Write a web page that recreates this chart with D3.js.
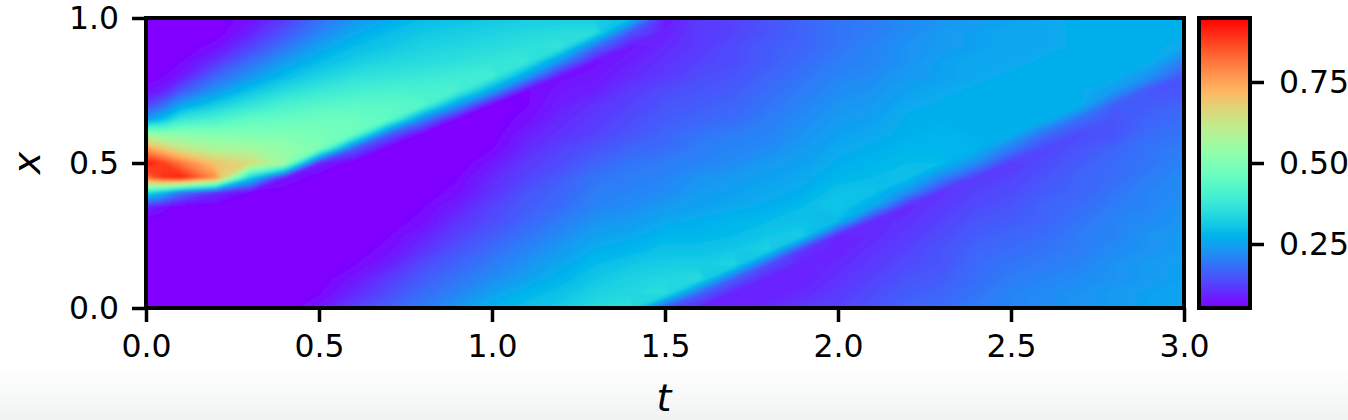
<!DOCTYPE html>
<html>
<head>
<meta charset="utf-8">
<script src="https://cdn.jsdelivr.net/npm/d3@7"></script>
<style>
  html, body { margin: 0; padding: 0; background: #fff; }
  svg { display: block; }
  text { font-family: "DejaVu Sans", sans-serif; fill: #000; }
</style>
</head>
<body>
<svg id="chart"></svg>
<script>
const width = 1348, height = 420;

// sample positions of the field
const tGrid = [0, 0.05, 0.1, 0.2, 0.3, 0.4, 0.5, 0.6, 0.7, 0.8, 0.9, 1.0, 1.1, 1.2, 1.3, 1.4, 1.5,
  1.6, 1.7, 1.8, 1.9, 2.0, 2.1, 2.2, 2.3, 2.4, 2.5, 2.6, 2.7, 2.8, 2.9, 3.0];
const xGrid = [0, 0.05, 0.1, 0.15, 0.2, 0.25, 0.3, 0.35, 0.4, 0.45, 0.5, 0.55, 0.6, 0.65, 0.7, 0.75, 0.8, 0.85, 0.9, 0.95, 1];

// one line per t, values from x = 0 up to x = 1
const uByT = [
  [.05,.05,.05,.05,.05,.05,.05,.10,.36,.82,.93,.76,.55,.24,.13,.07,.05,.05,.05,.05,.05],
  [.05,.05,.05,.05,.05,.05,.05,.07,.30,.90,.88,.69,.52,.30,.18,.09,.06,.05,.05,.05,.05],
  [.05,.05,.05,.05,.05,.05,.05,.05,.20,.92,.81,.63,.52,.38,.25,.15,.08,.06,.05,.05,.05],
  [.05,.05,.05,.05,.05,.05,.05,.05,.11,.78,.70,.58,.51,.41,.32,.23,.17,.11,.07,.05,.05],
  [.05,.05,.05,.05,.05,.05,.05,.05,.06,.33,.66,.57,.50,.45,.37,.30,.23,.18,.13,.09,.07],
  [.05,.05,.05,.05,.05,.05,.05,.05,.05,.08,.56,.54,.50,.46,.41,.35,.29,.24,.19,.15,.12],
  [.08,.06,.05,.05,.05,.05,.05,.05,.05,.05,.09,.50,.49,.47,.43,.38,.33,.29,.25,.21,.18],
  [.13,.10,.08,.06,.05,.05,.05,.05,.05,.05,.05,.16,.47,.47,.44,.40,.36,.32,.29,.26,.23],
  [.17,.14,.12,.09,.07,.06,.05,.05,.05,.05,.05,.05,.17,.45,.44,.41,.37,.34,.31,.29,.26],
  [.20,.18,.16,.14,.11,.09,.07,.06,.05,.05,.05,.05,.05,.21,.43,.41,.38,.35,.33,.31,.29],
  [.24,.21,.19,.17,.15,.13,.11,.09,.07,.06,.05,.05,.05,.05,.24,.41,.39,.36,.34,.32,.30],
  [.28,.25,.22,.20,.18,.16,.14,.13,.11,.10,.08,.06,.05,.05,.05,.26,.40,.37,.35,.33,.31],
  [.30,.28,.25,.23,.21,.19,.17,.16,.15,.13,.12,.10,.09,.07,.06,.06,.25,.38,.36,.34,.32],
  [.32,.30,.28,.26,.24,.22,.20,.18,.17,.16,.14,.13,.11,.10,.09,.08,.07,.22,.37,.35,.32],
  [.35,.33,.31,.29,.27,.25,.23,.21,.20,.19,.17,.15,.13,.12,.11,.09,.08,.07,.18,.35,.32],
  [.36,.34,.33,.31,.28,.26,.24,.22,.21,.20,.19,.17,.15,.14,.13,.12,.10,.09,.08,.15,.30],
  [.15,.36,.34,.32,.30,.28,.26,.24,.22,.21,.20,.18,.17,.16,.15,.14,.12,.11,.10,.09,.08],
  [.09,.17,.35,.32,.30,.28,.27,.25,.24,.23,.21,.20,.19,.17,.16,.15,.14,.13,.12,.12,.12],
  [.09,.09,.16,.34,.31,.29,.28,.26,.25,.24,.22,.21,.20,.18,.17,.16,.15,.14,.14,.13,.13],
  [.10,.09,.09,.14,.33,.31,.29,.27,.26,.25,.24,.22,.21,.20,.19,.18,.17,.16,.16,.15,.15],
  [.12,.10,.09,.09,.11,.32,.30,.29,.27,.26,.25,.24,.23,.22,.21,.20,.19,.18,.17,.17,.17],
  [.13,.12,.11,.10,.09,.09,.29,.31,.30,.28,.27,.26,.25,.24,.23,.22,.21,.20,.19,.19,.19],
  [.15,.14,.13,.12,.11,.10,.10,.26,.30,.29,.28,.27,.26,.25,.24,.23,.22,.21,.21,.20,.20],
  [.17,.16,.15,.14,.13,.12,.11,.10,.23,.30,.29,.28,.27,.27,.26,.25,.24,.23,.23,.22,.22],
  [.18,.17,.16,.15,.15,.14,.13,.12,.11,.21,.29,.28,.28,.27,.27,.26,.25,.25,.24,.24,.23],
  [.20,.19,.18,.18,.17,.16,.15,.14,.13,.12,.22,.28,.27,.27,.27,.27,.26,.26,.25,.25,.24],
  [.21,.21,.20,.19,.18,.17,.16,.15,.14,.13,.12,.20,.27,.27,.27,.27,.27,.26,.26,.26,.25],
  [.22,.22,.21,.20,.19,.18,.17,.17,.16,.15,.14,.13,.18,.27,.27,.27,.27,.27,.26,.26,.26],
  [.23,.23,.22,.21,.20,.20,.19,.18,.17,.17,.16,.15,.14,.18,.27,.27,.27,.27,.27,.27,.27],
  [.24,.24,.23,.23,.22,.21,.21,.20,.19,.18,.18,.17,.15,.15,.16,.24,.27,.27,.27,.27,.27],
  [.25,.25,.24,.24,.23,.23,.22,.21,.21,.20,.19,.19,.18,.17,.16,.15,.23,.27,.27,.27,.27],
  [.26,.25,.25,.25,.24,.24,.23,.23,.22,.22,.21,.20,.19,.18,.17,.15,.15,.20,.26,.27,.27]
];

const tTicks = [0, 0.5, 1, 1.5, 2, 2.5, 3];
const xTicks = [0, 0.5, 1];
const cbTicks = [0.25, 0.5, 0.75];
const uMin = 0.0525, uMax = 0.9475;

// matplotlib "rainbow"
function rainbow(n) {
  const r = Math.abs(2 * n - 0.5), g = Math.sin(Math.PI * n), b = Math.cos(Math.PI * n / 2);
  return d3.rgb(255 * Math.min(r, 1), 255 * g, 255 * b).formatHex();
}

const plot = {left: 146, right: 1184, top: 18, bottom: 308};
const bar = {left: 1199, right: 1250};

const X = d3.scaleLinear().domain([0, 3]).range([plot.left, plot.right]);
const Y = d3.scaleLinear().domain([0, 1]).range([plot.bottom, plot.top]);
const C = d3.scaleSequential(rainbow).domain([uMin, uMax]);
const CY = d3.scaleLinear().domain([uMin, uMax]).range([plot.bottom, plot.top]);

// grid index -> data value (d3.contours puts samples at cell centres)
const tOfIndex = d3.scaleLinear().domain(d3.range(tGrid.length)).range(tGrid);
const xOfIndex = d3.scaleLinear().domain(d3.range(xGrid.length)).range(xGrid);

const svg = d3.select("#chart")
  .attr("width", width)
  .attr("height", height)
  .attr("viewBox", [0, 0, width, height]);

const defs = svg.append("defs");

const fade = defs.append("linearGradient")
  .attr("id", "fade").attr("x1", 0).attr("y1", 0).attr("x2", 0).attr("y2", 1);
fade.append("stop").attr("offset", "0%").attr("stop-color", "#ffffff");
fade.append("stop").attr("offset", "100%").attr("stop-color", "#f1f3f3");

defs.append("clipPath").attr("id", "plotClip")
  .append("rect")
  .attr("x", plot.left).attr("y", plot.top)
  .attr("width", plot.right - plot.left).attr("height", plot.bottom - plot.top);

defs.append("filter")
  .attr("id", "soft")
  .attr("filterUnits", "userSpaceOnUse")
  .attr("x", 0).attr("y", 0).attr("width", width).attr("height", height)
  .append("feGaussianBlur").attr("stdDeviation", 1.4);

svg.append("rect").attr("width", width).attr("height", height).attr("fill", "#fff");
svg.append("rect").attr("y", 365).attr("width", width).attr("height", 55).attr("fill", "url(#fade)");

// field
const flat = [];
xGrid.forEach((_, j) => tGrid.forEach((_, i) => flat.push(uByT[i][j])));

const contours = d3.contours()
  .size([tGrid.length, xGrid.length])
  .thresholds(d3.range(0.05, 0.95, 0.004))(flat);

const toPlot = d3.geoTransform({
  point(c, r) {
    this.stream.point(X(tOfIndex(c - 0.5)), Y(xOfIndex(r - 0.5)));
  }
});
const path = d3.geoPath(toPlot);

svg.append("g")
  .attr("clip-path", "url(#plotClip)")
  .append("g")
  .attr("filter", "url(#soft)")
  .selectAll("path")
  .data(contours)
  .join("path")
  .attr("d", path)
  .attr("fill", d => C(d.value));

// colorbar
const levels = d3.range(uMin, uMax, 0.003);
svg.append("g")
  .selectAll("rect")
  .data(levels)
  .join("rect")
  .attr("x", bar.left)
  .attr("width", bar.right - bar.left)
  .attr("y", d => CY(d + 0.003) - 0.5)
  .attr("height", d => CY(d) - CY(d + 0.003) + 1)
  .attr("fill", d => C(d));

function styleAxis(g) {
  g.select(".domain").remove();
  g.selectAll("line").attr("stroke", "#000").attr("stroke-width", 3.5);
  g.selectAll("text").attr("font-size", 31.5).attr("fill", "#000");
}

svg.append("g")
  .attr("transform", `translate(0,${plot.bottom})`)
  .call(d3.axisBottom(X).tickValues(tTicks).tickFormat(d3.format(".1f")).tickSize(14).tickPadding(13))
  .call(styleAxis);

svg.append("g")
  .attr("transform", `translate(${plot.left},0)`)
  .call(d3.axisLeft(Y).tickValues(xTicks).tickFormat(d3.format(".1f")).tickSize(14).tickPadding(13))
  .call(styleAxis);

svg.append("g")
  .attr("transform", `translate(${bar.right},0)`)
  .call(d3.axisRight(CY).tickValues(cbTicks).tickFormat(d3.format(".2f")).tickSize(14).tickPadding(15))
  .call(styleAxis);

// frames
svg.append("rect")
  .attr("x", plot.left).attr("y", plot.top)
  .attr("width", plot.right - plot.left).attr("height", plot.bottom - plot.top)
  .attr("fill", "none").attr("stroke", "#000").attr("stroke-width", 4);

svg.append("rect")
  .attr("x", bar.left).attr("y", plot.top)
  .attr("width", bar.right - bar.left).attr("height", plot.bottom - plot.top)
  .attr("fill", "none").attr("stroke", "#000").attr("stroke-width", 4);

// axis titles
svg.append("text")
  .attr("x", X(1.5) - 1).attr("y", 411)
  .attr("text-anchor", "middle")
  .attr("font-size", 38)
  .attr("font-style", "italic")
  .text("t");

svg.append("text")
  .attr("transform", `translate(40,${Y(0.5)}) rotate(-90)`)
  .attr("text-anchor", "middle")
  .attr("font-size", 38)
  .attr("font-style", "italic")
  .text("x");
</script>
</body>
</html>
